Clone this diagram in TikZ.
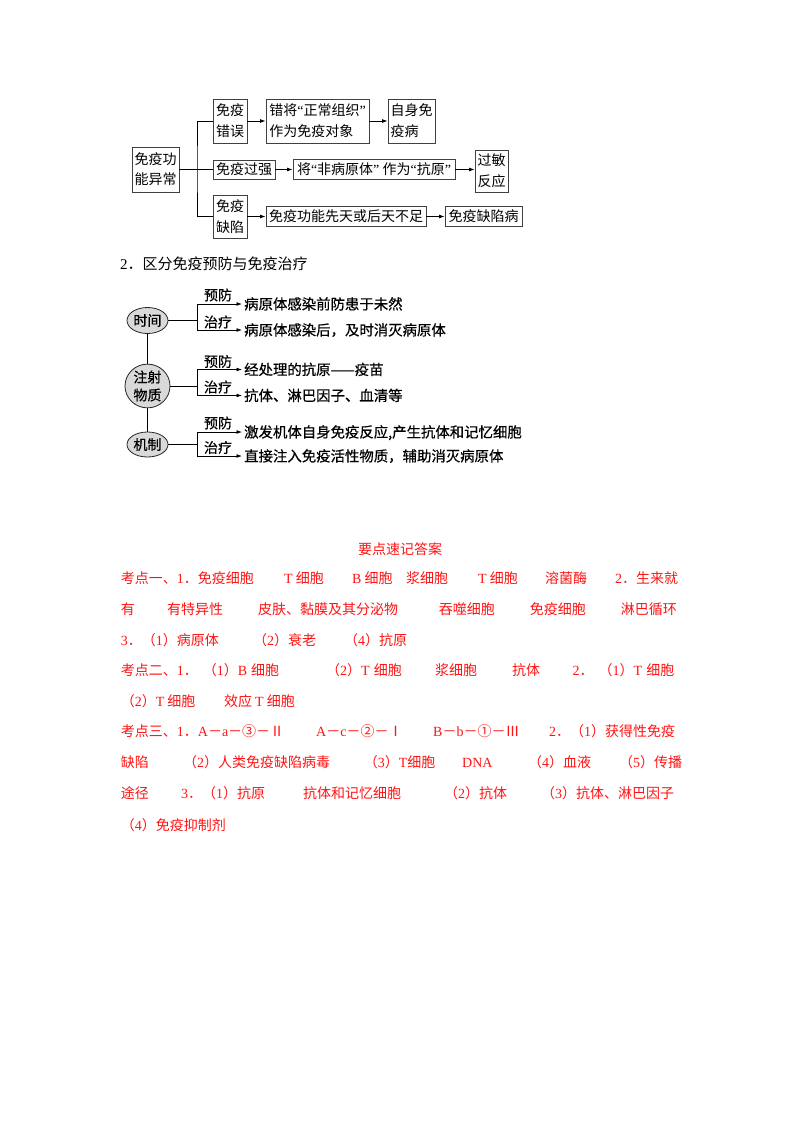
\documentclass[tikz,border=0pt]{standalone}
\usepackage{fontspec}
\setmainfont{Noto Sans CJK SC}
\newfontfamily\cjkmed{Noto Sans CJK SC}[FakeBold=0.6]
\newfontfamily\latf{Liberation Serif}
\newcommand\lt[1]{{\latf #1}}
\newcommand\gp{\hspace{3pt}}
\usetikzlibrary{arrows.meta,shapes.geometric}
\definecolor{ansred}{RGB}{255,20,20}
\begin{document}
\begin{tikzpicture}[x=1pt,y=-1pt,
  box/.style={draw=black!75, line width=0.8pt, inner sep=0pt, align=center, font=\fontsize{14}{21}\selectfont},
  ln/.style={line width=0.7pt},
  arr/.style={-{Latex[length=5.5pt,width=3.8pt]}, line width=0.7pt},
  ell/.style={ellipse, draw=black!85, fill=black!15, line width=0.8pt, inner sep=0pt, align=center, font=\cjkmed\fontsize{14}{18}\selectfont},
  lbl/.style={inner sep=0pt, font=\cjkmed\fontsize{14}{16}\selectfont},
  txt/.style={anchor=west, inner sep=0pt, font=\cjkmed\fontsize{14.4}{16}\selectfont, text height=12.6pt, text depth=1.8pt},
  ans/.style={anchor=west, inner sep=0pt, text=ansred, font=\fontsize{14}{16}\selectfont, text height=12.3pt, text depth=1.7pt}]
\useasboundingbox[fill=white] (0,0) rectangle (800,1132);

% ---------- diagram 1 ----------
\node[box, minimum width=47pt, minimum height=45pt, font=\fontsize{14}{20}\selectfont] (A) at (155.5,169.5) {免疫功\\能异常};
\node[box, minimum width=34pt, minimum height=44pt] (B1) at (230,121) {免疫\\错误};
\node[box, minimum width=62pt, minimum height=19pt] (B2) at (244,169.5) {免疫过强};
\node[box, minimum width=34pt, minimum height=43pt] (B3) at (230,216.5) {免疫\\缺陷};
\node[box, minimum width=103pt, minimum height=44pt, align=left] (C1) at (317.5,121) {错将\lt{“}正常组织\lt{”}\\作为免疫对象};
\node[box, minimum width=162pt, minimum height=20pt] (C2) at (374,169.5) {将\lt{“}非病原体\lt{”} 作为\lt{“}抗原\lt{”}};
\node[box, minimum width=160pt, minimum height=20pt] (C3) at (346,216.5) {免疫功能先天或后天不足};
\node[box, minimum width=47pt, minimum height=44pt, align=left] (D1) at (411.5,121) {自身免\\疫病};
\node[box, minimum width=33pt, minimum height=42pt] (D2) at (491.5,171) {过敏\\反应};
\node[box, minimum width=77pt, minimum height=20pt] (D3) at (483.5,216.5) {免疫缺陷病};

\coordinate (J) at (197,169.5);
\draw[ln] (A.east) -- (B2.west);
\draw[ln] (B1.west) -| (J) |- (B3.west);
\draw[arr] (B1.east) -- (C1.west);
\draw[arr] (C1.east) -- (D1.west);
\draw[arr] (B2.east) -- (C2.west);
\draw[arr] (C2.east) -- (C2.east -| D2.west);
\draw[arr] (B3.east) -- (C3.west);
\draw[arr] (C3.east) -- (D3.west);

% ---------- diagram 2 ----------
\node[anchor=west, inner sep=0pt, font=\fontsize{15}{18}\selectfont] (T2) at (120,264) {\lt{2}．区分免疫预防与免疫治疗};

\node[ell, minimum width=41pt, minimum height=26pt] (E1) at (147.5,320.5) {时间};
\node[ell, minimum width=45pt, minimum height=42pt] (E2) at (147.5,386) {注射\\物质};
\node[ell, minimum width=41pt, minimum height=25pt] (E3) at (147.5,444.5) {机制};
\draw[ln] (E1) -- (E2);
\draw[ln] (E2) -- (E3);

\node[txt] (P1) at (244,304) {病原体感染前防患于未然};
\node[txt] (Q1) at (244,330) {病原体感染后，及时消灭病原体};
\node[txt] (P2) at (244,369.5) {经处理的抗原——疫苗};
\node[txt] (Q2) at (244,395.5) {抗体、淋巴因子、血清等};
\node[txt] (P3) at (244,432) {激发机体自身免疫反应,产生抗体和记忆细胞};
\node[txt] (Q3) at (244,456) {直接注入免疫活性物质，辅助消灭病原体};

\node[lbl] (LP1) at (218,295) {预防};
\node[lbl] (LQ1) at (218,322) {治疗};
\node[lbl] (LP2) at (218,361.5) {预防};
\node[lbl] (LQ2) at (218,387) {治疗};
\node[lbl] (LP3) at (218,423) {预防};
\node[lbl] (LQ3) at (218,447.5) {治疗};

\coordinate (J1) at (197,320.5);
\coordinate (J2) at (197,386);
\coordinate (J3) at (197,444.5);
\draw[ln] (E1.east) -- (J1);
\draw[ln] (E2.east) -- (J2);
\draw[ln] (E3.east) -- (J3);
\draw[arr, shorten >=2pt] (J1) |- (P1.west);
\draw[arr, shorten >=2pt] (J1) |- (Q1.west);
\draw[arr, shorten >=2pt] (J2) |- (P2.west);
\draw[arr, shorten >=2pt] (J2) |- (Q2.west);
\draw[arr, shorten >=2pt] (J3) |- (P3.west);
\draw[arr, shorten >=2pt] (J3) |- (Q3.west);

% ---------- answers ----------
\node[ans, anchor=center] (H) at (400,549) {要点速记答案};

\node[ans] (a11) at (120.7,578) {考点一、\lt{1}．免疫细胞};
\node[ans] (a12) at (284,578) {\lt{T}\gp 细胞};
\node[ans] (a13) at (352,578) {\lt{B}\gp 细胞};
\node[ans] (a14) at (406,578) {浆细胞};
\node[ans] (a15) at (478,578) {\lt{T}\gp 细胞};
\node[ans] (a16) at (545,578) {溶菌酶};
\node[ans] (a17) at (615,578) {\lt{2}．生来就};

\node[ans] (a21) at (120.7,609) {有};
\node[ans] (a22) at (167,609) {有特异性};
\node[ans] (a23) at (258,609) {皮肤、黏膜及其分泌物};
\node[ans] (a24) at (438.6,609) {吞噬细胞};
\node[ans] (a25) at (529.6,609) {免疫细胞};
\node[ans] (a26) at (620.7,609) {淋巴循环};

\node[ans] (a31) at (120.7,640) {\lt{3}．（\lt{1}）病原体};
\node[ans] (a32) at (253,640) {（\lt{2}）衰老};
\node[ans] (a33) at (344,640) {（\lt{4}）抗原};

\node[ans] (a41) at (120.7,670) {考点二、\lt{1}．\hspace{5pt}（\lt{1}）\lt{B}\hspace{4pt}细胞};
\node[ans] (a42) at (326,670) {（\lt{2}）\lt{T}\hspace{4pt}细胞};
\node[ans] (a43) at (435,670) {浆细胞};
\node[ans] (a44) at (512,670) {抗体};
\node[ans] (a45) at (572.5,670) {\lt{2}．\hspace{5pt}（\lt{1}）\lt{T}\hspace{4pt}细胞};

\node[ans] (a51) at (120.7,701) {（\lt{2}）\lt{T}\gp 细胞};
\node[ans] (a52) at (224,701) {效应\gp\lt{T}\gp 细胞};

\node[ans] (a61) at (120.7,731) {考点三、\lt{1}．\lt{A}－\lt{a}－③－Ⅱ};
\node[ans] (a62) at (316,731) {\lt{A}－\lt{c}－②－Ⅰ};
\node[ans] (a63) at (433,731) {\lt{B}－\lt{b}－①－Ⅲ};
\node[ans] (a64) at (549,731) {\lt{2}．（\lt{1}）获得性免疫};

\node[ans] (a71) at (120.7,762) {缺陷};
\node[ans] (a72) at (183,762) {（\lt{2}）人类免疫缺陷病毒};
\node[ans] (a73) at (363.6,762) {（\lt{3}）\lt{T}细胞};
\node[ans] (a74) at (462,762) {\lt{DNA}};
\node[ans] (a75) at (528,762) {（\lt{4}）血液};
\node[ans] (a76) at (619,762) {（\lt{5}）传播};

\node[ans] (a81) at (120.7,793) {途径};
\node[ans] (a82) at (181,793) {\lt{3}．（\lt{1}）抗原};
\node[ans] (a83) at (303,793) {抗体和记忆细胞};
\node[ans] (a84) at (444,793) {（\lt{2}）抗体};
\node[ans] (a85) at (541,793) {（\lt{3}）抗体、淋巴因子};

\node[ans] (a91) at (120.7,825) {（\lt{4}）免疫抑制剂};
\end{tikzpicture}
\end{document}
